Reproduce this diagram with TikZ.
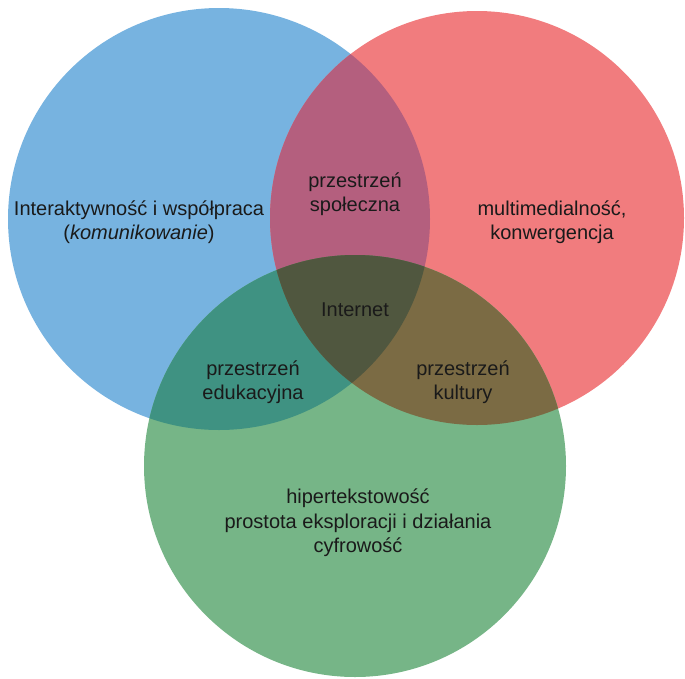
\documentclass[tikz,border=0pt]{standalone}
\usepackage{fontspec}
\setmainfont{Liberation Sans}
\definecolor{cblue}{HTML}{77B3E0}
\definecolor{cred}{HTML}{F17C7E}
\definecolor{cgreen}{HTML}{76B587}
\definecolor{cbr}{HTML}{B45F7E}
\definecolor{cbg}{HTML}{3F9282}
\definecolor{crg}{HTML}{7B6B44}
\definecolor{call}{HTML}{50573F}
\definecolor{ctext}{HTML}{1A1A1A}
\begin{document}
\begin{tikzpicture}[x=1pt,y=-1pt,
  lbl/.style={text=ctext,align=center,font=\fontsize{20}{24.5}\selectfont,inner sep=0pt}]
\useasboundingbox (0,0) rectangle (685,678);
\def\B{(219,219) circle (211)}
\def\R{(477,218) circle (207)}
\def\G{(355,466) circle (211)}
\fill[cblue] \B;
\fill[cred] \R;
\fill[cgreen] \G;
\begin{scope}\clip \B; \fill[cbr] \R; \end{scope}
\begin{scope}\clip \B; \fill[cbg] \G; \end{scope}
\begin{scope}\clip \R; \fill[crg] \G; \end{scope}
\begin{scope}\clip \B; \clip \R; \fill[call] \G; \end{scope}
\node[lbl] (blue) at (139,222) {Interaktywność i współpraca\\(\textit{komunikowanie})};
\node[lbl] (br) at (355,194) {przestrzeń\\społeczna};
\node[lbl] (red) at (552,222) {multimedialność,\\konwergencja};
\node[lbl] (all) at (355,310) {Internet};
\node[lbl] (bg) at (253,382) {przestrzeń\\edukacyjna};
\node[lbl] (rg) at (463,382) {przestrzeń\\kultury};
\node[lbl] (green) at (358,523) {hipertekstowość\\prostota eksploracji i działania\\cyfrowość};
\end{tikzpicture}
\end{document}
